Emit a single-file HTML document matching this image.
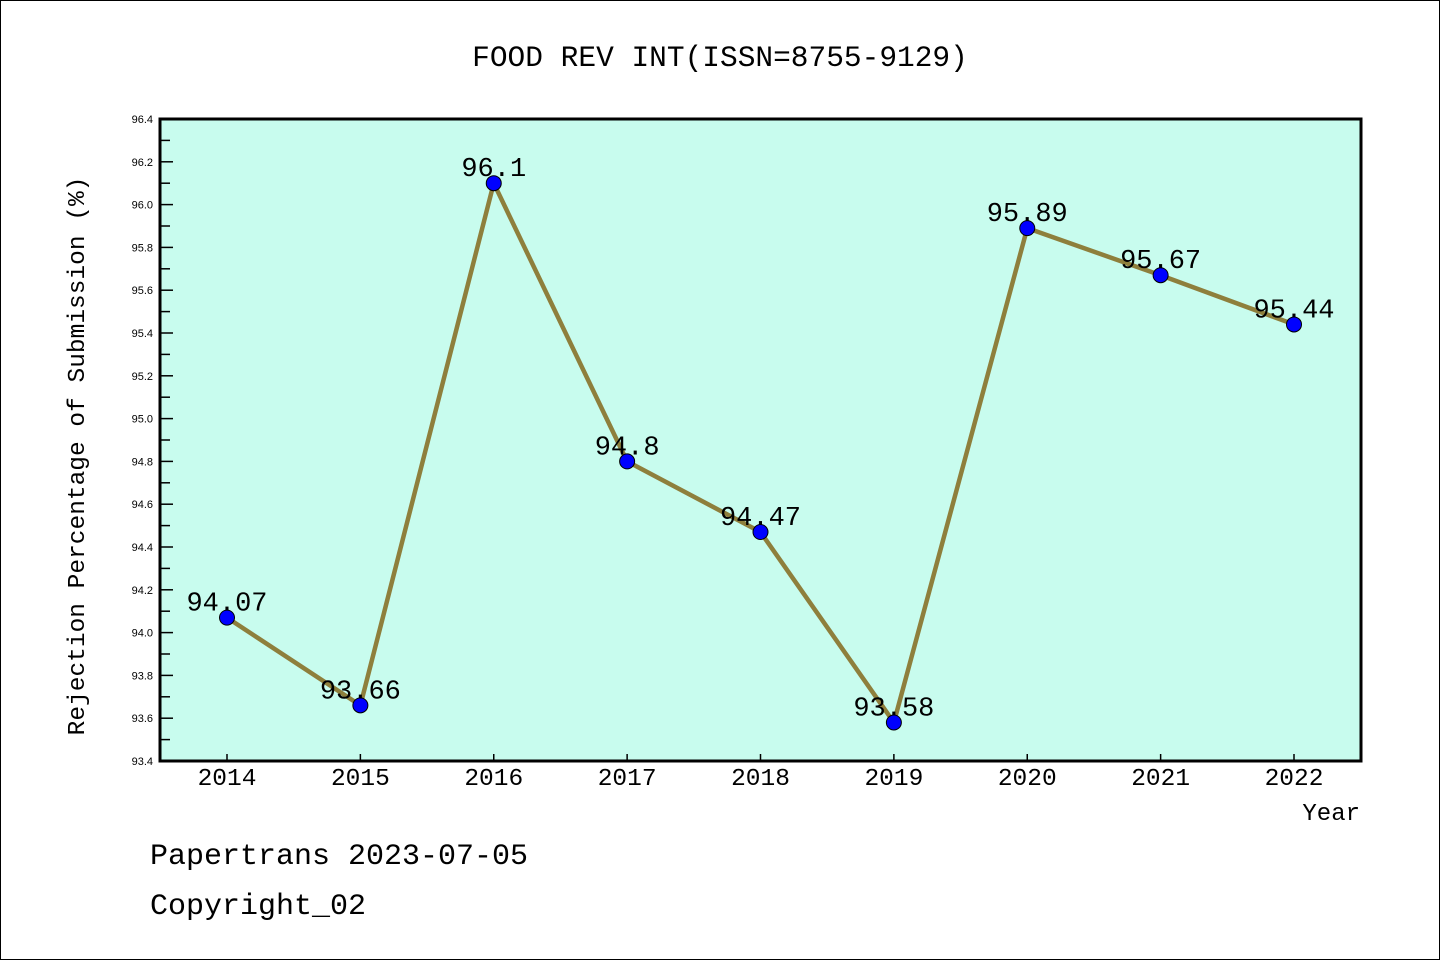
<!DOCTYPE html>
<html><head><meta charset="utf-8"><style>
body{margin:0;background:#fff;}
svg{display:block;font-family:"Liberation Mono","WenQuanYi Zen Hei",monospace;}
</style></head><body>
<svg id="chart" width="1440" height="960">
<rect x="0.5" y="0.5" width="1439" height="959" fill="#fff" stroke="#000"/>
<text x="720" y="66" text-anchor="middle" font-size="29.5">FOOD REV INT(ISSN=8755-9129)</text>
<rect x="160" y="119" width="1201" height="642" fill="#c8fcee"/>
<g id="grid"></g>
<g id="series"></g>
<rect x="160" y="119" width="1201" height="642" fill="none" stroke="#000" stroke-width="3"/>
<text transform="translate(84,456) rotate(-90)" text-anchor="middle" font-size="24.5">Rejection Percentage of Submission (%)</text>
<text x="1360" y="820" text-anchor="end" font-size="24">Year</text>
<text x="150" y="864" font-size="30">Papertrans 2023-07-05</text>
<text x="150" y="914" font-size="30">Copyright_02</text>
</svg>
<script>
const years=["2014","2015","2016","2017","2018","2019","2020","2021","2022"];
const values=[94.07,93.66,96.1,94.8,94.47,93.58,95.89,95.67,95.44];
const valueLabels=["94.07","93.66","96.1","94.8","94.47","93.58","95.89","95.67","95.44"];
const yTicks=["93.4","93.6","93.8","94.0","94.2","94.4","94.6","94.8","95.0","95.2","95.4","95.6","95.8","96.0","96.2","96.4"];
const yMin=93.4,yMax=96.4;
const NS="http://www.w3.org/2000/svg";
function y(v){return 761-(v-yMin)/(yMax-yMin)*642;}
function x(i){return 227+i*(1294-227)/(years.length-1);}
function mk(t,a,p){const e=document.createElementNS(NS,t);for(const k in a)e.setAttribute(k,a[k]);p.appendChild(e);return e;}
const g=document.getElementById('grid'),s=document.getElementById('series');
yTicks.forEach((t,i)=>{const v=parseFloat(t),yy=y(v);
 const tk=mk('line',{x1:160,x2:173,y1:yy,y2:yy,stroke:'#000','stroke-width':1.5},g);
 
 
 const lb=mk('text',{x:153,y:yy+4,'text-anchor':'end','font-size':11,'font-family':'Liberation Sans, sans-serif'},g);lb.textContent=t;
 
 
 if(i<yTicks.length-1){const ym=y(v+0.1);
  const mt=mk('line',{x1:160,x2:170,y1:ym,y2:ym,stroke:'#000','stroke-width':1.5},g);
  
  }
});
years.forEach((yr,i)=>{const xx=x(i);
 const tk=mk('line',{x1:xx,x2:xx,y1:761,y2:754,stroke:'#000','stroke-width':1.5},g);
 
 
 const lb=mk('text',{x:xx,y:785,'text-anchor':'middle','font-size':24.5},g);lb.textContent=yr;
 
 
});
const pl=mk('polyline',{points:values.map((v,i)=>x(i)+','+y(v)).join(' '),fill:'none',stroke:'#8e7f3c','stroke-width':4.5,'stroke-linejoin':'round'},s);


values.forEach((v,i)=>{
 const c=mk('circle',{cx:x(i),cy:y(v),r:7.5,fill:'#0000ff',stroke:'#000','stroke-width':1},s);
 
 
 const t=mk('text',{x:x(i),y:y(v)-7,'text-anchor':'middle','font-size':27},s);t.textContent=valueLabels[i];
 
 
});
</script>
</body></html>
